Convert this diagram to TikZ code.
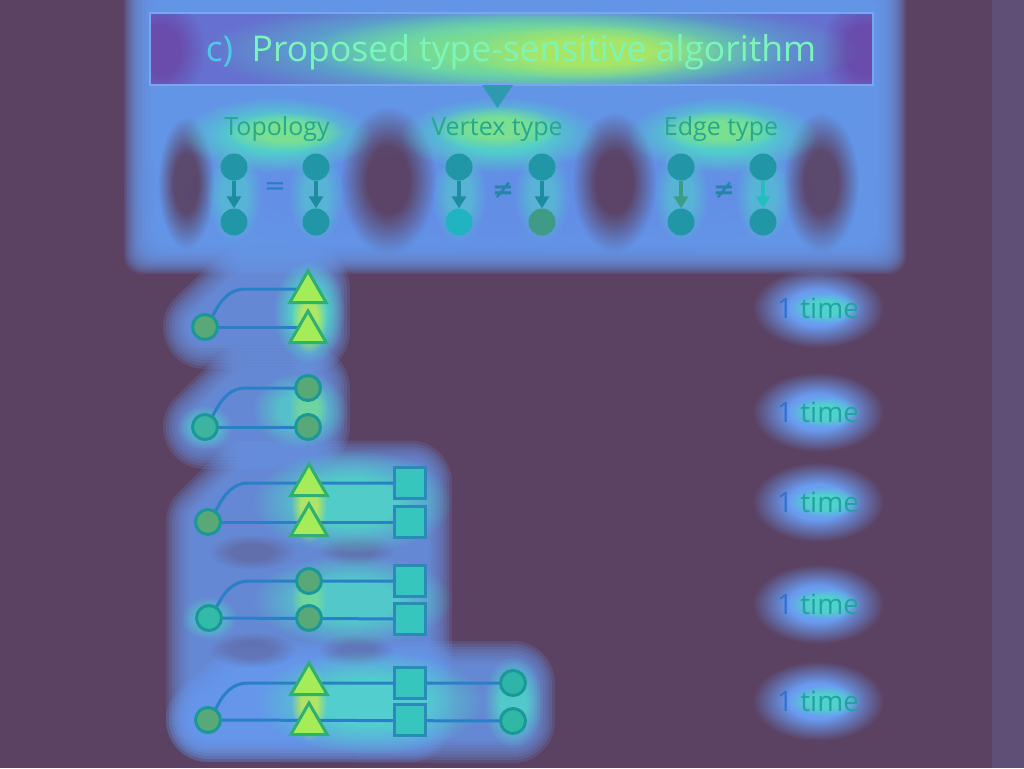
\documentclass[tikz,border=0pt]{standalone}
\usepackage{fontspec}
\setmainfont{Open Sans}
\newfontfamily\symfont{DejaVu Sans}
\usetikzlibrary{arrows.meta,shapes.geometric,fadings,calc}
\definecolor{bgp}{HTML}{5B4162}
\definecolor{rstrip}{HTML}{5F4E76}
\definecolor{pblue}{HTML}{6A9CF2}
\definecolor{mblue}{HTML}{6488E6}
\definecolor{tbox}{HTML}{6670D0}
\definecolor{tcorner}{HTML}{6A46A6}
\definecolor{gcyan}{HTML}{4ED8C8}
\definecolor{ggreen}{HTML}{8CE878}
\definecolor{gyellow}{HTML}{C6EC4C}
\definecolor{ttext}{HTML}{7CF5BA}
\definecolor{ctext}{HTML}{4EC8E6}
\definecolor{htext}{HTML}{26A88E}
\definecolor{sgnode}{HTML}{2196A6}
\definecolor{sgarrow}{HTML}{1E8CA0}
\definecolor{lineb}{HTML}{2A80C6}
\definecolor{rcfill}{HTML}{58A878}
\definecolor{rcdraw}{HTML}{1A9898}
\definecolor{trfill}{HTML}{A4EC58}
\definecolor{trdraw}{HTML}{30B070}
\definecolor{sqfill}{HTML}{36C6BE}
\definecolor{sqdraw}{HTML}{2A8AB8}
\definecolor{onecol}{HTML}{3070D0}
\definecolor{timecol}{HTML}{22A2A0}
\definecolor{vbfill}{HTML}{3F9A86}
\definecolor{eaarr}{HTML}{3A9E84}
\definecolor{ebarr}{HTML}{22BEC0}
\definecolor{eqcol}{HTML}{2A7CC8}
\definecolor{necol}{HTML}{2386A8}
\definecolor{lcA}{HTML}{3CB4A0}
\definecolor{lcB}{HTML}{34BAA8}
\definecolor{lcC}{HTML}{2EB4A8}
\definecolor{lcD}{HTML}{30B8A4}
\definecolor{vacol}{HTML}{1FB4C0}
\definecolor{ptr}{HTML}{2E9AB0}
\pgfdeclareradialshading{softsh}{\pgfpointorigin}{color(0bp)=(white); color(11bp)=(white); color(25bp)=(black); color(50bp)=(black)}
\pgfdeclarefading{softf}{\pgfuseshading{softsh}}
\pgfdeclarelayer{glow}
\pgfdeclarelayer{edges}
\pgfsetlayers{glow,edges,main}
\newcommand\blob[6][1]{\fill[#2,opacity=#1,path fading=softf] ({#3-#5},{#4-#6}) rectangle ({#3+#5},{#4+#6});}
\newcommand\softrect[6]{\foreach \i in {0,...,19}{\fill[#1,opacity=0.14,rounded corners=18pt] ({#2+\i*#6},{#3+\i*#6}) rectangle ({#4-\i*#6},{#5-\i*#6});}}
\newcommand\halo[1]{\foreach \w in {84,78,72,66,60,54,48,42,36}{\begin{scope}[transparency group,opacity=0.17]\path[fill=pblue,draw=pblue,line width=\w pt,line cap=round,line join=round] #1;\end{scope}}}
\begin{document}
\begin{tikzpicture}[x=1pt,y=-1pt,
  sg/.style={circle,fill=sgnode,minimum size=27pt,inner sep=0pt},
  sgarr/.style={draw=sgarrow,line width=3.5pt,-{Triangle[width=14pt,length=12pt]}},
  rcirc/.style={circle,draw=rcdraw,fill=rcfill,line width=3pt,minimum size=25pt,inner sep=0pt},
  lcirc/.style={rcirc,fill=#1},
  tri/.style={regular polygon,regular polygon sides=3,draw=trdraw,fill=trfill,line width=3pt,minimum size=42pt,inner sep=0pt},
  sq/.style={rectangle,draw=sqdraw,fill=sqfill,line width=3pt,minimum size=31pt,inner sep=0pt},
  conn/.style={draw=lineb,line width=3pt},
  hdr/.style={font=\fontsize{25}{28}\selectfont,text=htext,anchor=base,inner sep=0pt},
  times/.style={font=\fontsize{28}{32}\selectfont,anchor=base,inner sep=0pt},
  relsym/.style={font=\symfont\fontsize{26}{28}\selectfont,inner sep=0pt},
]
\useasboundingbox (0,0) rectangle (1024,768);
\begin{pgfonlayer}{glow}
\fill[bgp] (0,0) rectangle (1024,768);
\fill[rstrip] (992,0) rectangle (1024,768);
% top panel
\softrect{pblue}{124}{-34}{906}{274}{1.6}
\blob[0.5]{mblue}{500}{190}{380}{70}
% dark bands
\blob[0.9]{bgp}{186}{183}{28}{66}
\blob[0.95]{bgp}{388}{180}{48}{74}
\blob[0.95]{bgp}{614}{182}{42}{70}
\blob[0.9]{bgp}{821}{182}{38}{70}
% header glows
\blob[0.85]{gcyan}{277}{135}{95}{38}
\blob[0.7]{ggreen}{285}{132}{60}{20}
\blob[0.85]{gcyan}{500}{135}{100}{38}
\blob[0.7]{ggreen}{497}{128}{65}{22}
\blob[0.85]{gcyan}{722}{135}{95}{38}
\blob[0.7]{ggreen}{720}{130}{60}{20}
\blob[0.5]{gcyan}{234}{195}{28}{48}
\blob[0.5]{gcyan}{316}{195}{28}{48}
\blob[0.5]{gcyan}{459}{195}{28}{48}
\blob[0.5]{gcyan}{542}{195}{28}{48}
\blob[0.5]{gcyan}{681}{195}{28}{48}
\blob[0.5]{gcyan}{763}{195}{28}{48}
% title box
\fill[tbox] (150,13) rectangle (873,85);
\begin{scope}
\clip (150,13) rectangle (873,85);
\blob[0.85]{tcorner}{160}{50}{45}{55}
\blob[0.85]{tcorner}{865}{50}{45}{55}
\blob[0.8]{gcyan}{530}{50}{330}{55}
\blob[0.7]{ggreen}{545}{50}{240}{40}
\blob[0.6]{gyellow}{590}{52}{130}{28}
\end{scope}
\draw[draw=pblue!90!white,line width=1.5pt] (150,13) rectangle (873,85);
% 1 time glows
\foreach \yy in {308,412,502,604,701}{
  \blob[1]{pblue}{818}{\yy}{66}{40}
  \blob[0.9]{gcyan}{824}{\yy}{36}{16}
}
\end{pgfonlayer}
% pointer
\fill[ptr] (482,85) -- (513,85) -- (497.5,108) -- cycle;
% title
\node[font=\fontsize{35.5}{40}\selectfont,anchor=base,inner sep=0pt] (title) at (511,62)
  {\textcolor{ctext}{c)}\ \ \textcolor{ttext}{Proposed type-sensitive algorithm}};
% headers
\node[hdr] (hT) at (277,135) {Topology};
\node[hdr] (hV) at (497,135) {Vertex type};
\node[hdr] (hE) at (721,135) {Edge type};
% small graphs
\node[sg] (ta1) at (234,167) {};
\node[sg] (ta2) at (234,222) {};
\node[sg] (tb1) at (316,167) {};
\node[sg] (tb2) at (316,222) {};
\node[sg] (va1) at (459,167) {};
\node[sg,fill=vacol] (va2) at (459,222) {};
\node[sg] (vb1) at (542,167) {};
\node[sg,fill=vbfill] (vb2) at (542,222) {};
\node[sg] (ea1) at (681,167) {};
\node[sg] (ea2) at (681,222) {};
\node[sg] (eb1) at (763,167) {};
\node[sg] (eb2) at (763,222) {};
\draw[sgarr] (ta1) -- (ta2);
\draw[sgarr] (tb1) -- (tb2);
\draw[sgarr] (va1) -- (va2);
\draw[sgarr] (vb1) -- (vb2);
\draw[sgarr,draw=eaarr] (ea1) -- (ea2);
\draw[sgarr,draw=ebarr] (eb1) -- (eb2);
\node[relsym,text=eqcol] (eq) at (275,189) {=};
\node[relsym,text=necol,font=\symfont\bfseries\fontsize{26}{28}\selectfont] (ne1) at (503,190) {≠};
\node[relsym,text=necol,font=\symfont\bfseries\fontsize{26}{28}\selectfont] (ne2) at (724,190) {≠};
% ---- row 1
\node[rcirc] (r1c) at (205,327) {};
\node[tri] (r1t1) at (308,292) {};
\node[tri] (r1t2) at (308,332) {};
\coordinate (r1k) at (245,289);
% ---- row 2
\node[lcirc=lcA] (r2c) at (205,427) {};
\node[rcirc] (r2m1) at (308,388) {};
\node[rcirc] (r2m2) at (308,427) {};
\coordinate (r2k) at (245,388);
% ---- row 3
\node[rcirc] (r3c) at (208,522) {};
\node[tri] (r3t1) at (309,485) {};
\node[tri] (r3t2) at (309,525) {};
\node[sq] (r3s1) at (410,482.5) {};
\node[sq] (r3s2) at (410,521.5) {};
\coordinate (r3k) at (248,483);
% ---- row 4
\node[lcirc=lcB] (r4c) at (209,618) {};
\node[rcirc] (r4m1) at (309,581) {};
\node[rcirc] (r4m2) at (309,618) {};
\node[sq] (r4s1) at (410,581) {};
\node[sq] (r4s2) at (410,619) {};
\coordinate (r4k) at (249,581);
% ---- row 5
\node[rcirc] (r5c) at (208,720) {};
\node[tri] (r5t1) at (309,684) {};
\node[tri] (r5t2) at (309,724) {};
\node[sq] (r5s1) at (410,682.5) {};
\node[sq] (r5s2) at (410,720) {};
\node[lcirc=lcC] (r5e1) at (513,683) {};
\node[lcirc=lcD] (r5e2) at (513,721) {};
\coordinate (r5k) at (248,683);
% halos behind rows
\begin{pgfonlayer}{glow}
\halo{(r1c.center) -- (r1c -| r1t2) -- (r1t2.center) -- (r1t1.center) -- (r1k -| r1t1) -- (r1k) -- cycle}
\halo{(r2c.center) -- (r2m2.center) -- (r2m1.center) -- (r2k) -- cycle}
\halo{(r3k) -- (r3s1.center) -- (r5s2.center) -- (r5c.center) -- (r3c.center) -- cycle}
\halo{(r5c.center) -- (r5e2.center) -- (r5e1.center) -- (r5k) -- cycle}
\blob[0.35]{bgp}{252}{552}{44}{18}
\blob[0.3]{bgp}{356}{550}{38}{17}
\blob[0.35]{bgp}{252}{650}{44}{18}
\blob[0.3]{bgp}{356}{650}{38}{17}
\blob[0.9]{gcyan}{309}{312}{36}{52}
\blob[0.8]{gyellow}{309}{318}{18}{36}
\blob[0.7]{gcyan}{300}{410}{48}{38}
\blob[0.5]{ggreen}{308}{408}{20}{32}
\blob[0.6]{gcyan}{205}{427}{28}{22}
\blob[0.85]{gcyan}{352}{502}{100}{52}
\blob[0.8]{gyellow}{309}{505}{18}{38}
\blob[0.8]{gcyan}{352}{600}{100}{46}
\blob[0.5]{ggreen}{309}{600}{18}{32}
\blob[0.6]{gcyan}{209}{618}{28}{22}
\blob[0.85]{gcyan}{370}{702}{115}{52}
\blob[0.8]{gyellow}{309}{703}{18}{38}
\blob[0.8]{gcyan}{513}{702}{30}{46}
\end{pgfonlayer}
\begin{pgfonlayer}{edges}
\draw[conn] (r1c) -- (r1c -| r1t2);
\draw[conn] (r1c.55) .. controls +(8,-17) and +(-14,0) .. (r1k) -- (r1k -| r1t1);
\draw[conn] (r2c) -- (r2m2);
\draw[conn] (r2c.55) .. controls +(8,-17) and +(-14,0) .. (r2k) -- (r2m1);
\draw[conn] (r3c) -- (r3c -| r3s2);
\draw[conn] (r3c.55) .. controls +(8,-17) and +(-14,0) .. (r3k) -- (r3k -| r3s1);
\draw[conn] (r4c) -- (r4s2);
\draw[conn] (r4c.55) .. controls +(8,-17) and +(-14,0) .. (r4k) -- (r4s1);
\draw[conn] (r5c) -- (r5e2);
\draw[conn] (r5c.55) .. controls +(8,-17) and +(-14,0) .. (r5k) -- (r5e1);
\end{pgfonlayer}
% counts
\foreach \yy/\nm in {318/a,422/b,512/c,614/d,711/e}{
  \node[times] (cnt\nm) at (818,\yy) {\textcolor{onecol}{1} \textcolor{timecol}{time}};
}
\end{tikzpicture}
\end{document}
